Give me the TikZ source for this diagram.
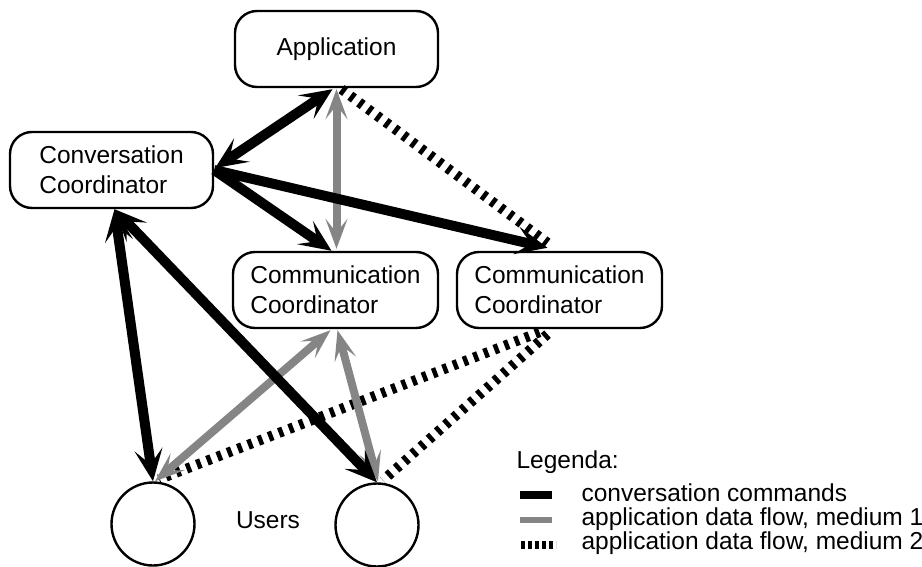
\documentclass[tikz,border=0pt]{standalone}
\usepackage{fontspec}
\setmainfont{Liberation Sans}
\usetikzlibrary{arrows.meta,calc}

\tikzset{
  labelfont/.style={font=\fontsize{24.5}{30}\selectfont},
  box/.style={draw, line width=2.4pt, rounded corners=22pt, minimum width=203pt,
    minimum height=76pt, align=left, inner sep=0pt, labelfont},
  user/.style={draw, circle, line width=2.4pt, minimum size=83pt, inner sep=0pt},
  cmdtip/.tip={Stealth[length=32pt,width=28pt,inset=15pt]},
  medtip/.tip={Stealth[length=30pt,width=22pt,inset=14pt]},
  cmd/.style={line width=10pt, black},
  medone/.style={line width=8pt, black!48},
  medtwo/.style={line width=10pt, black, dash pattern=on 4.5pt off 6.5pt},
}

\begin{document}
\begin{tikzpicture}[x=1pt,y=-1pt]
\useasboundingbox (0,0) rectangle (922,567);

% components
\node[box] (app)  at (336.5,49)  {Application};
\node[box] (conv) at (111.5,170) {Conversation\\Coordinator};
\node[box, minimum width=205pt] (cc1) at (335.5,290) {Communication\\Coordinator};
\node[box, minimum width=205pt] (cc2) at (559.5,290) {Communication\\Coordinator};
\node[user] (u1) at (153,524) {};
\node[user] (u2) at (377,525) {};
\node[labelfont] (users) at (268,520) {Users};

% application data flow, medium 2
\draw[medtwo] ($(app.south)+(5,1)$) -- ($(cc2.north)+(-12,-8)$);
\draw[medtwo] ($(cc2.south)+(-20,3)$) -- ($(u1.north)+(6,-2)$);
\draw[medtwo] ($(cc2.south)+(-12,5)$) -- ($(u2.north)+(6,-2)$);

% application data flow, medium 1
\draw[medone, medtip-medtip] ($(app.south)+(0,1)$) -- ($(cc1.north)+(1,-2)$);
\draw[medone, medtip-medtip] ($(cc1.south)+(-5,1)$) -- ($(u1.north)+(2,0)$);
\draw[medone, medtip-medtip] ($(cc1.south)+(2,1)$) -- ($(u2.north)+(1,-1)$);

% conversation commands
\draw[cmd, cmdtip-cmdtip] ($(app.south)+(-4,1)$) -- ($(conv.east)+(1,-2)$);
\draw[cmd, -cmdtip] (conv.east) -- ($(cc1.north)+(-4,0)$);
\draw[cmd, -cmdtip] (conv.east) -- ($(cc2.north)+(-12,-3)$);
\draw[cmd, cmdtip-cmdtip] ($(conv.south)+(3,0)$) -- (u1.north);
\draw[cmd, cmdtip-cmdtip] ($(conv.south)+(3,0)$) -- (u2.north);

% legend
\node[labelfont, anchor=base west] (leg) at (513,468) {Legenda:};
\coordinate (k1a) at (520,495);
\coordinate (k1b) at (552,495);
\coordinate (k2a) at (520,520);
\coordinate (k2b) at (552,520);
\coordinate (k3a) at (521,545);
\coordinate (k3b) at (556,545);
\draw[cmd, line width=8pt] (k1a) -- (k1b);
\draw[medone, line width=6pt] (k2a) -- (k2b);
\draw[black, line width=8pt, dash pattern=on 4pt off 3pt] (k3a) -- (k3b);
\node[labelfont, anchor=base west] (t1) at (578,501) {conversation commands};
\node[labelfont, anchor=base west] (t2) at (578,525) {application data flow, medium 1};
\node[labelfont, anchor=base west] (t3) at (578,549) {application data flow, medium 2};
\end{tikzpicture}
\end{document}
